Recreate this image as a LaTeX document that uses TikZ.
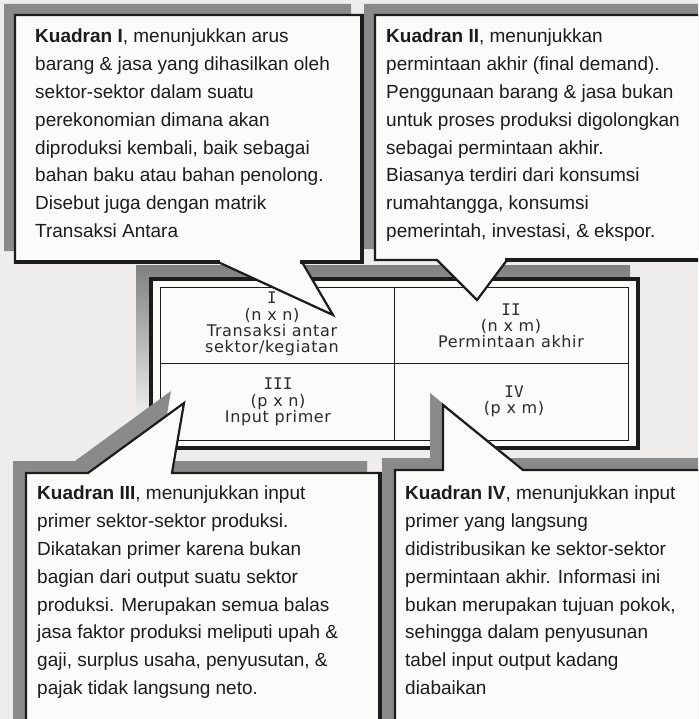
\documentclass[tikz,border=0pt]{standalone}
\usepackage{fontspec}
\setmainfont{Liberation Sans}
\newfontfamily\cellfont{DejaVu Sans}[LetterSpace=4]
\newfontfamily\numfont{DejaVu Sans Mono}
\definecolor{paper}{HTML}{EEEDEB}
\definecolor{boxfill}{HTML}{FBFBFA}
\definecolor{shade}{HTML}{8A8A8A}
\definecolor{ink}{HTML}{1C1C1C}
\definecolor{cellink}{HTML}{2A2A2A}
\newcommand{\calloutI}[1]{\path[#1] (15,15) -- (362,15) -- (362,262) -- (302,262) -- (333,315) -- (218,262) -- (15,262) -- cycle;}
\newcommand{\calloutII}[1]{\path[#1] (375,15) -- (720,15) -- (720,260) -- (507,260) -- (477,300) -- (437,260) -- (375,260) -- cycle;}
\newcommand{\calloutIII}[1]{\path[#1] (26,473) -- (88,473) -- (184,403) -- (172,473) -- (380,473) -- (380,740) -- (26,740) -- cycle;}
\newcommand{\calloutIV}[1]{\path[#1] (395,470) -- (443,470) -- (443,405) -- (523,470) -- (720,470) -- (720,740) -- (395,740) -- cycle;}
\begin{document}
\begin{tikzpicture}[x=1pt,y=-1pt,
  callout/.style={fill=boxfill,draw=ink,line width=2.2pt,line join=miter},
  heavyedge/.style={draw=ink,line width=3.5pt,line cap=rect},
  bodytext/.style={anchor=north west,inner sep=0pt,align=left,text=ink,
    font=\fontsize{19}{27.8}\selectfont},
  celltext/.style={align=center,inner sep=0pt,text=cellink,
    font=\cellfont\fontsize{16}{16.2}\selectfont}]
\useasboundingbox (0,0) rectangle (698,719);
\fill[paper] (0,0) rectangle (698,719);
\clip (0,0) rectangle (698,719);

% central table
\fill[shade] (136,265) rectangle (630,438);
\draw[fill=boxfill,draw=ink,line width=3.2pt] (151,279) rectangle (638,448);
\draw[ink,line width=1pt] (160,287) rectangle (628,440);
\coordinate (vt) at (394,287);
\coordinate (vb) at (394,440);
\coordinate (hl) at (160,363);
\coordinate (hr) at (628,363);
\draw[ink,line width=1pt] (vt) -- (vb) (hl) -- (hr);
\node[celltext] (q1) at (272,324) {{\numfont I}\\(n x n)\\Transaksi antar\\sektor/kegiatan};
\node[celltext] (q2) at (511,326) {{\numfont II}\\(n x m)\\Permintaan akhir};
\node[celltext] (q3) at (278,402) {{\numfont III}\\(p x n)\\Input primer};
\node[celltext] (q4) at (514,401) {{\numfont IV}\\(p x m)};

% callout shadows
\begin{scope}[shift={(-11,-11)}]
  \calloutI{fill=shade}
  \calloutII{fill=shade}
\end{scope}
\begin{scope}[shift={(-13,-12)}]
  \calloutIII{fill=shade}
  \calloutIV{fill=shade}
\end{scope}
% callouts
\calloutI{callout}
\calloutII{callout}
\calloutIII{callout}
\calloutIV{callout}
% heavier right and bottom edges
\draw[heavyedge] (362,16) -- (362,262) -- (302,262);
\draw[heavyedge] (218,262) -- (16,262);
\draw[heavyedge] (507,260) -- (720,260);
\draw[heavyedge] (380,474) -- (380,740);

\node[bodytext] (t1) at (35,29) {\textbf{Kuadran I}, menunjukkan arus\\
barang \& jasa yang dihasilkan oleh\\
sektor-sektor dalam suatu\\
perekonomian dimana akan\\
diproduksi kembali, baik sebagai\\
bahan baku atau bahan penolong.\\
Disebut juga dengan matrik\\
Transaksi Antara};
\node[bodytext] (t2) at (386,29) {\textbf{Kuadran II}, menunjukkan\\
permintaan akhir (final demand).\\
Penggunaan barang \& jasa bukan\\
untuk proses produksi digolongkan\\
sebagai permintaan akhir.\\
Biasanya terdiri dari konsumsi\\
rumahtangga, konsumsi\\
pemerintah, investasi, \& ekspor.};
\node[bodytext] (t3) at (37,486) {\textbf{Kuadran III}, menunjukkan input\\
primer sektor-sektor produksi.\\
Dikatakan primer karena bukan\\
bagian dari output suatu sektor\\
produksi. Merupakan semua balas\\
jasa faktor produksi meliputi upah \&\\
gaji, surplus usaha, penyusutan, \&\\
pajak tidak langsung neto.};
\node[bodytext] (t4) at (405,486) {\textbf{Kuadran IV}, menunjukkan input\\
primer yang langsung\\
didistribusikan ke sektor-sektor\\
permintaan akhir. Informasi ini\\
bukan merupakan tujuan pokok,\\
sehingga dalam penyusunan\\
tabel input output kadang\\
diabaikan};
\end{tikzpicture}
\end{document}
